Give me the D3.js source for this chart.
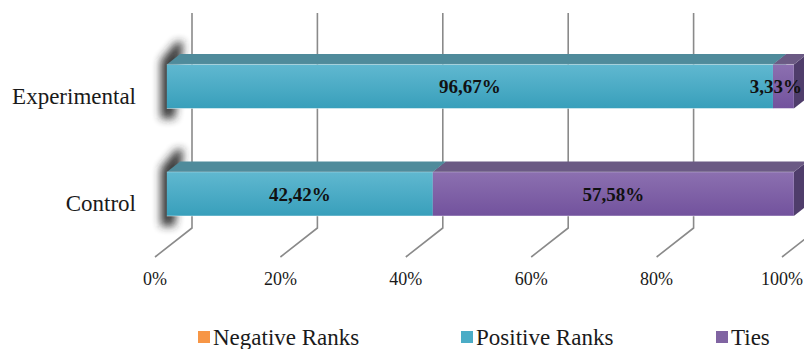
<!DOCTYPE html>
<html>
<head>
<meta charset="utf-8">
<script src="https://cdn.jsdelivr.net/npm/d3@7"></script>
<style>
  html, body { margin: 0; padding: 0; background: #fff; }
  svg { display: block; }
  text { font-family: "Liberation Serif", "Times New Roman", serif; fill: #1a1a1a; }
</style>
</head>
<body>
<svg id="chart" width="804" height="349"></svg>
<script>
// Wilcoxon signed-rank breakdown per group (percent of cases)
const categories = ["Experimental", "Control"];
const seriesNames = ["Negative Ranks", "Positive Ranks", "Ties"];
const negativeRanks = [0, 0];
const positiveRanks = [96.67, 42.42];
const ties = [3.33, 57.58];
const tickValues = [0, 20, 40, 60, 80, 100];

const W = 804, H = 349;
const svg = d3.select("#chart");

// 3D projection: back wall in screen coords, depth z (0 = back wall, 1 = front edge of floor)
const DX = 37, DY = 29;
const x = d3.scaleLinear().domain([0, 100]).range([192, 819]);
const y = d3.scaleBand().domain(categories).range([13, 228]).paddingInner(0.59).paddingOuter(0.295);
const Z_FRONT = 0.68, Z_BACK = 0.32;
const P = (v, yb, z) => [x(v) - DX * z, yb + DY * z];
const floorY = 228;

const rows = categories.map((c, i) => ({
  category: c,
  "Negative Ranks": negativeRanks[i],
  "Positive Ranks": positiveRanks[i],
  "Ties": ties[i]
}));
const stacked = d3.stack().keys(seriesNames)(rows);

const palette = {
  "Negative Ranks": { base: "#f79646", top: "#f5a769", bottom: "#e0802f", lid: "#b8743c", side: "#a0602a" },
  "Positive Ranks": { base: "#4bacc6", top: "#60b8d0", bottom: "#389fbb", lid: "#4f8b9b", side: "#357e91" },
  "Ties":           { base: "#8064a2", top: "#8c70b0", bottom: "#72529d", lid: "#6b5a84", side: "#4f3d6b" }
};

const defs = svg.append("defs");
seriesNames.forEach((s, i) => {
  const g = defs.append("linearGradient").attr("id", "grad" + i)
    .attr("x1", 0).attr("y1", 0).attr("x2", 0).attr("y2", 1);
  g.append("stop").attr("offset", "0%").attr("stop-color", palette[s].top);
  g.append("stop").attr("offset", "100%").attr("stop-color", palette[s].bottom);
});
defs.append("filter").attr("id", "soft").attr("x", "-150%").attr("y", "-50%").attr("width", "400%").attr("height", "200%")
  .append("feGaussianBlur").attr("stdDeviation", 4.5);

const root = svg.append("g");

// Gridlines: vertical on the back wall, folding forward across the floor
const grid = root.append("g");
tickValues.forEach(v => {
  const pts = [[x(v), 13], [x(v), floorY], P(v, floorY, 1)];
  grid.append("path").attr("d", d3.line()(pts))
    .attr("fill", "none").attr("stroke", "#8a8a8a").attr("stroke-width", 1.6);
});

// Tick labels under the front edge of the floor
root.append("g").selectAll("text").data(tickValues).join("text")
  .attr("x", d => P(d, floorY, 1)[0])
  .attr("y", 285)
  .attr("text-anchor", "middle")
  .attr("font-size", 18)
  .text(d => d + "%");

// Category labels at the front of each band
root.append("g").selectAll("text").data(categories).join("text")
  .attr("x", 136)
  .attr("y", d => y(d) + y.bandwidth() / 2 + DY)
  .attr("dy", "0.35em")
  .attr("text-anchor", "end")
  .attr("font-size", 23)
  .text(d => d);

// Soft shadow at the left end of each bar
const shadow = root.append("g");
categories.forEach(c => {
  const y0 = y(c), y1 = y(c) + y.bandwidth();
  const fl = P(0, y1, Z_FRONT), ft = P(0, y0, Z_FRONT), bt = P(0, y0, Z_BACK);
  const pts = [
    [fl[0] - 6, fl[1] + 10],
    [ft[0] - 6, ft[1] - 4],
    [bt[0] - 4, bt[1] - 12],
    [bt[0] + 3, bt[1] - 12],
    [fl[0] + 8, fl[1] + 10]
  ];
  shadow.append("path").attr("d", d3.line()(pts) + "Z")
    .attr("fill", "#262626").attr("opacity", 0.9).attr("filter", "url(#soft)");
});

// 3D stacked bars
const fmt = d3.formatLocale({ decimal: ",", thousands: ".", grouping: [3], currency: ["", ""] }).format(".2f");
const bars = root.append("g");
categories.forEach((c, ci) => {
  const y0 = y(c), y1 = y(c) + y.bandwidth();
  stacked.forEach((layer, si) => {
    const [v0, v1] = layer[ci];
    if (v1 - v0 <= 0) return;
    const col = palette[layer.key];
    const poly = pts => d3.line()(pts) + "Z";
    // right end face
    bars.append("path").attr("d", poly([P(v1, y0, Z_FRONT), P(v1, y0, Z_BACK), P(v1, y1, Z_BACK), P(v1, y1, Z_FRONT)]))
      .attr("fill", col.side);
    // top face
    bars.append("path").attr("d", poly([P(v0, y0, Z_FRONT), P(v1, y0, Z_FRONT), P(v1, y0, Z_BACK), P(v0, y0, Z_BACK)]))
      .attr("fill", col.lid);
    // front face
    bars.append("path").attr("d", poly([P(v0, y0, Z_FRONT), P(v1, y0, Z_FRONT), P(v1, y1, Z_FRONT), P(v0, y1, Z_FRONT)]))
      .attr("fill", "url(#grad" + si + ")");
    // light edges along the front face
    bars.append("path").attr("d", d3.line()([P(v0, y0, Z_FRONT), P(v1, y0, Z_FRONT)]))
      .attr("stroke", "#ffffff").attr("stroke-opacity", 0.3).attr("stroke-width", 1);
    bars.append("path").attr("d", d3.line()([P(v0, y1, Z_FRONT), P(v1, y1, Z_FRONT)]))
      .attr("stroke", "#ffffff").attr("stroke-opacity", 0.45).attr("stroke-width", 1);
  });
});

// Value labels centred on each segment's front face, kept inside the canvas
const labels = root.append("g");
categories.forEach((c, ci) => {
  const yc = y(c) + y.bandwidth() / 2;
  stacked.forEach(layer => {
    const [v0, v1] = layer[ci];
    if (v1 - v0 <= 0) return;
    const p = P((v0 + v1) / 2, yc, Z_FRONT);
    const t = labels.append("text")
      .attr("x", p[0]).attr("y", p[1]).attr("dy", "0.35em")
      .attr("text-anchor", "middle")
      .attr("font-size", 19).attr("font-weight", "bold")
      .style("fill", "#111")
      .text(fmt(v1 - v0) + "%");
    const w = t.node().getComputedTextLength();
    if (p[0] + w / 2 > W - 2) t.attr("x", W - 2 - w / 2);
  });
});

// Legend
const legendX = [198, 461, 716];
const legend = root.append("g");
seriesNames.forEach((s, i) => {
  legend.append("rect").attr("x", legendX[i]).attr("y", 331).attr("width", 12).attr("height", 12)
    .attr("fill", palette[s].base);
  legend.append("text").attr("x", legendX[i] + 15).attr("y", 345).attr("font-size", 23).text(s);
});
</script>
</body>
</html>
